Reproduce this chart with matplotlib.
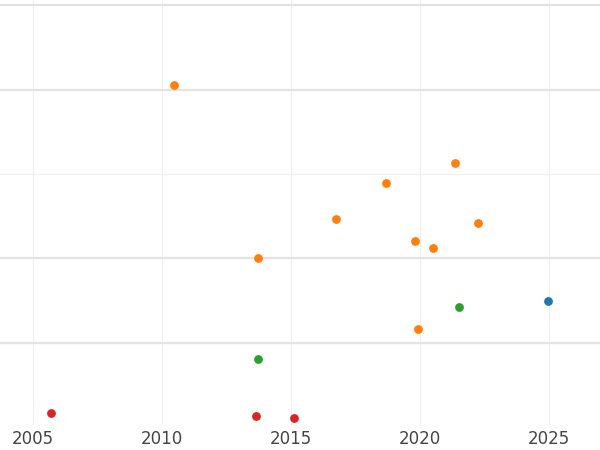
import matplotlib.pyplot as plt

orange_x = [2010.47, 2021.36, 2018.68, 2016.74, 2022.25, 2019.81, 2020.5, 2013.72, 2019.92]
orange_y = [4.05, 3.13, 2.89, 2.47, 2.42, 2.21, 2.12, 2.0, 1.17]
green_x = [2021.51, 2013.72]
green_y = [1.43, 0.81]
blue_x = [2024.96]
blue_y = [1.49]
red_x = [2005.70, 2013.64, 2015.12]
red_y = [0.17, 0.14, 0.11]

fig = plt.figure(figsize=(6, 4.5), dpi=100)
ax = fig.add_axes([0, 0.056, 1, 0.944])

ax.scatter(orange_x, orange_y, color='#ff7f0e', s=40, zorder=3, linewidths=0)
ax.scatter(green_x, green_y, color='#2ca02c', s=40, zorder=3, linewidths=0)
ax.scatter(blue_x, blue_y, color='#1f77b4', s=40, zorder=3, linewidths=0)
ax.scatter(red_x, red_y, color='#d62728', s=40, zorder=3, linewidths=0)

ax.set_xlim(2003.72, 2026.98)
ax.set_ylim(0.03, 5.06)
ax.set_xticks([2005, 2010, 2015, 2020, 2025])
ax.set_xticks([2010, 2020], minor=True)
ax.set_yticks([3])
ax.set_yticks([1, 2, 4, 5], minor=True)
ax.tick_params(axis='both', which='both', length=0, labelsize=12, labelcolor='#444444')
ax.tick_params(axis='y', which='both', left=False, labelleft=False)
ax.grid(True, which='major', color='#efefef', linewidth=0.8)
ax.grid(True, which='minor', color='#e3e3e3', linewidth=1.6)
for s in ax.spines.values():
    s.set_visible(False)

fig.savefig('out.png')
